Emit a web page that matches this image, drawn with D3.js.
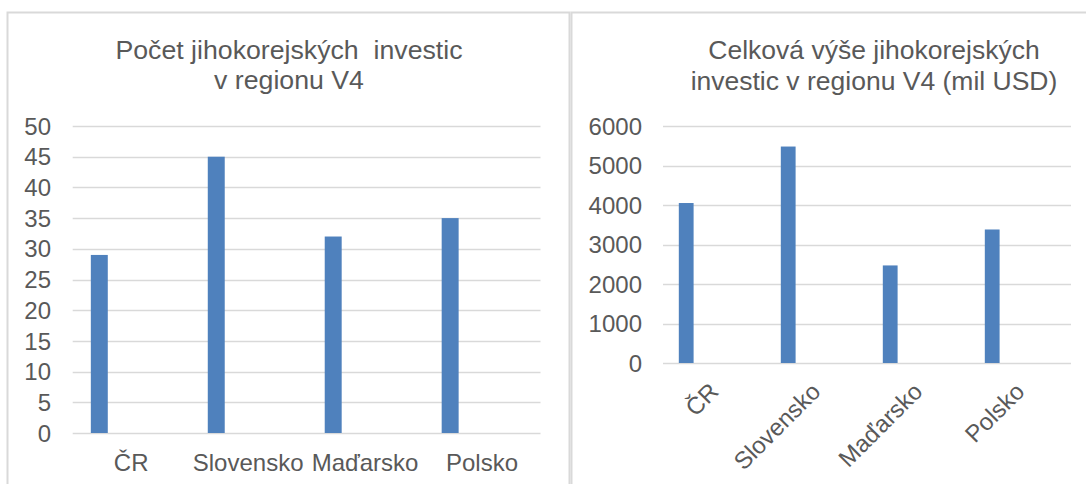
<!DOCTYPE html>
<html>
<head>
<meta charset="utf-8">
<script src="https://cdn.jsdelivr.net/npm/d3@7"></script>
<style>
  body { margin: 0; background: #fff; }
  text { font-family: "Liberation Sans", Arial, sans-serif; fill: #595959; white-space: pre; }
</style>
</head>
<body>
<div class="charts"></div>
<script>
var categories = ["ČR", "Slovensko", "Maďarsko", "Polsko"];
var countValues = [29, 45, 32, 35];
var amountValues = [4050, 5480, 2470, 3380];
var countTicks = [0, 5, 10, 15, 20, 25, 30, 35, 40, 45, 50];
var amountTicks = [0, 1000, 2000, 3000, 4000, 5000, 6000];
var countTitle = ["Počet jihokorejských  investic", "v regionu V4"];
var amountTitle = ["Celková výše jihokorejských", "investic v regionu V4 (mil USD)"];

var width = 1086;
var height = 484;
var barColor = "#4f81bd";
var gridColor = "#d9d9d9";

var svg = d3.select(".charts")
            .append("svg")
              .attr("width", width)
              .attr("height", height);

// panel frames
svg.append("rect")
  .attr("x", 7.5).attr("y", 12.5)
  .attr("width", 562).attr("height", 500)
  .attr("fill", "none")
  .attr("stroke", gridColor)
  .attr("stroke-width", 2);

svg.append("rect")
  .attr("x", 571.5).attr("y", 12.5)
  .attr("width", 540).attr("height", 500)
  .attr("fill", "none")
  .attr("stroke", gridColor)
  .attr("stroke-width", 2);

function drawChart(opt) {
  var g = svg.append("g");

  var xScale = d3.scaleBand()
                 .domain(categories)
                 .range([opt.left, opt.right]);

  var yScale = d3.scaleLinear()
                 .domain([0, opt.max])
                 .range([opt.bottom, opt.top]);

  // title
  g.selectAll(".title")
    .data(opt.title)
    .enter()
    .append("text")
    .attr("x", opt.titleX)
    .attr("y", function(d, i) { return opt.titleY + i * opt.lineGap; })
    .attr("text-anchor", "middle")
    .attr("font-size", opt.titleSize)
    .text(function(d) { return d; });

  // gridlines
  g.selectAll(".grid")
    .data(opt.ticks)
    .enter()
    .append("line")
    .attr("x1", opt.left)
    .attr("x2", opt.right)
    .attr("y1", function(d) { return Math.round(yScale(d)) + 0.5; })
    .attr("y2", function(d) { return Math.round(yScale(d)) + 0.5; })
    .attr("stroke", gridColor)
    .attr("stroke-width", 1.5);

  // y tick labels
  g.selectAll(".ytick")
    .data(opt.ticks)
    .enter()
    .append("text")
    .attr("x", opt.tickX)
    .attr("y", function(d) { return yScale(d); })
    .attr("dy", "0.36em")
    .attr("text-anchor", "end")
    .attr("font-size", opt.tickSize)
    .text(function(d) { return d; });

  // bars sit at the left of each category band
  var bw = xScale.bandwidth();
  g.selectAll(".bar")
    .data(opt.values)
    .enter()
    .append("rect")
    .attr("x", function(d, i) { return xScale(categories[i]) + bw * 0.155; })
    .attr("y", function(d) { return yScale(d); })
    .attr("width", bw * 0.145)
    .attr("height", function(d) { return yScale(0) - yScale(d); })
    .attr("fill", barColor);

  // category labels
  var labels = g.selectAll(".xlab")
    .data(categories)
    .enter()
    .append("text")
    .attr("font-size", opt.labelSize)
    .text(function(d) { return d; });

  if (opt.rotate) {
    labels
      .attr("text-anchor", "end")
      .attr("transform", function(d) {
        return "translate(" + (xScale(d) + bw / 2 + 6) + "," + (opt.bottom + 30) + ") rotate(-45)";
      });
  } else {
    labels
      .attr("text-anchor", "middle")
      .attr("x", function(d) { return xScale(d) + bw / 2; })
      .attr("y", opt.bottom + 38);
  }
}

drawChart({
  values: countValues, ticks: countTicks, max: 50, title: countTitle,
  left: 72.7, right: 540.5, top: 126, bottom: 433, tickX: 51,
  titleX: 289, titleY: 59, lineGap: 30, titleSize: "26.7px",
  tickSize: "24px", labelSize: "24px", rotate: false
});

drawChart({
  values: amountValues, ticks: amountTicks, max: 6000, title: amountTitle,
  left: 663, right: 1071, top: 126, bottom: 363, tickX: 642,
  titleX: 874, titleY: 59, lineGap: 31, titleSize: "26.5px",
  tickSize: "24px", labelSize: "24px", rotate: true
});
</script>
</body>
</html>
